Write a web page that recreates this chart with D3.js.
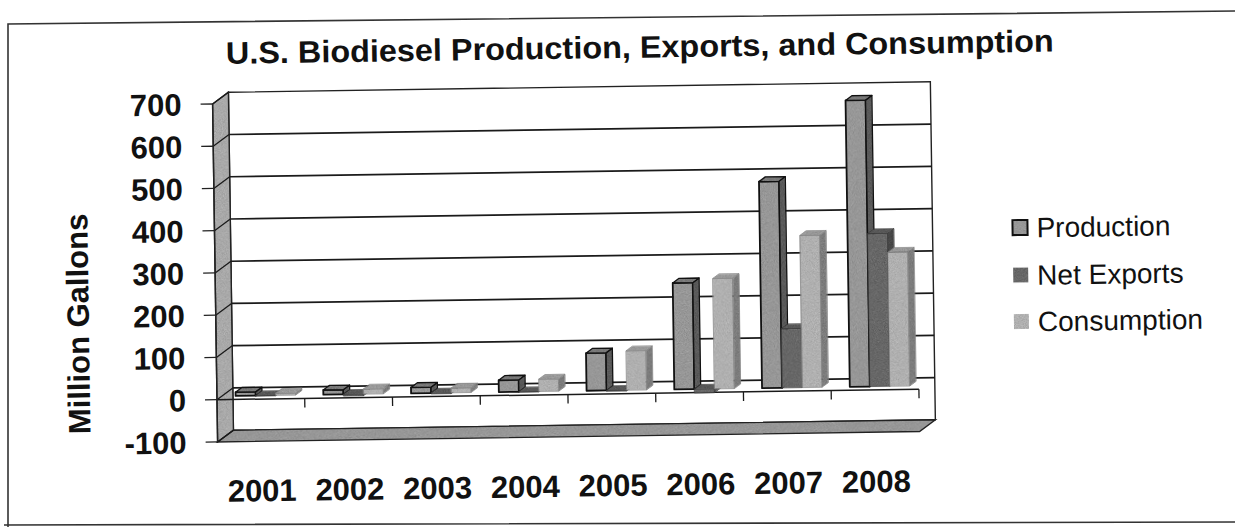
<!DOCTYPE html>
<html>
<head>
<meta charset="utf-8">
<script src="https://cdn.jsdelivr.net/npm/d3@7"></script>
<style>
  body { margin: 0; background: #fff; }
  svg { display: block; }
  text { font-family: "Liberation Sans", Arial, Helvetica, sans-serif; fill: #111; }
</style>
</head>
<body>
<svg id="chart" width="1235" height="527"></svg>
<script>
// U.S. biodiesel, million gallons per year
const years = ["2001", "2002", "2003", "2004", "2005", "2006", "2007", "2008"];
const seriesNames = ["Production", "Net Exports", "Consumption"];
const production  = [9, 11, 14, 28, 89, 252, 489, 678];
const netExports  = [-1, -4, -2, -1, -2, -9, 140, 362];
const consumption = [5, 12, 11, 29, 93, 261, 360, 317];
const yTicks = [-100, 0, 100, 200, 300, 400, 500, 600, 700];

const seriesValues = [production, netExports, consumption];

// face shades per series: front, side, top
const shades = [
  { front: "#979797", side: "#5a5a5a", top: "#787878", stroke: "#111" },
  { front: "#676767", side: "#474747", top: "#585858", stroke: "#3a3a3a" },
  { front: "#b0b0b0", side: "#7c7c7c", top: "#999999", stroke: "#888" }
];

const svg = d3.select("#chart");

// halftone-like grain for the shaded faces
const defs = svg.append("defs");
const f = defs.append("filter").attr("id", "grain")
  .attr("x", 0).attr("y", 0).attr("width", "100%").attr("height", "100%")
  .attr("color-interpolation-filters", "sRGB");
f.append("feTurbulence").attr("type", "fractalNoise").attr("baseFrequency", 1.1)
  .attr("numOctaves", 2).attr("seed", 5).attr("result", "noise");
f.append("feColorMatrix").attr("in", "noise").attr("type", "matrix")
  .attr("values", "0.33 0.33 0.33 0 0  0.33 0.33 0.33 0 0  0.33 0.33 0.33 0 0  0 0 0 0 1")
  .attr("result", "gray");
f.append("feComposite").attr("in", "SourceGraphic").attr("in2", "gray")
  .attr("operator", "arithmetic").attr("k1", 0).attr("k2", 1).attr("k3", 0.34).attr("k4", -0.17)
  .attr("result", "mix");
f.append("feComposite").attr("in", "mix").attr("in2", "SourceAlpha").attr("operator", "in");

// outer frame of the sheet
svg.append("path")
  .attr("d", "M8,527 L8,24 L1240,11 M4,525 L1240,522")
  .attr("fill", "none").attr("stroke", "#333").attr("stroke-width", 1.6);

// the chart itself sits at a slight tilt
const g = svg.append("g").attr("transform", "rotate(-0.85 617 263)");

// title
g.append("text")
  .attr("x", 643).attr("y", 58)
  .attr("text-anchor", "middle")
  .attr("font-size", 31).attr("font-weight", "bold")
  .attr("textLength", 828).attr("lengthAdjust", "spacingAndGlyphs")
  .text("U.S. Biodiesel Production, Exports, and Consumption");

// oblique depth of the plot box
const DX = 16, DY = 11.5;
const x0 = 215, x1 = 917;

const y = d3.scaleLinear().domain([-100, 700]).range([436, 98]);
const x = d3.scaleBand().domain(years).range([x0, x1]).padding(0);
const step = x.step();
const clusterW = 60;
const xs = d3.scaleBand().domain(seriesNames)
  .range([(step - clusterW) / 2, (step + clusterW) / 2]).padding(0);

const yMin = -100, yMax = 700;
const pts = p => p.map(q => q.join(",")).join(" ");

// back wall
g.append("rect")
  .attr("x", x0 + DX).attr("y", y(yMax) - DY)
  .attr("width", x1 - x0).attr("height", y(yMin) - y(yMax))
  .attr("fill", "#fff").attr("stroke", "#222").attr("stroke-width", 1.4);

// left side wall
g.append("polygon")
  .attr("points", pts([
    [x0, y(yMax)], [x0 + DX, y(yMax) - DY],
    [x0 + DX, y(yMin) - DY], [x0, y(yMin)]
  ]))
  .attr("fill", "#a9a9a9").attr("filter", "url(#grain)");
g.append("polygon")
  .attr("points", pts([
    [x0, y(yMax)], [x0 + DX, y(yMax) - DY],
    [x0 + DX, y(yMin) - DY], [x0, y(yMin)]
  ]))
  .attr("fill", "none").attr("stroke", "#222").attr("stroke-width", 1.4);

// floor
const floorPts = pts([
  [x0, y(yMin)], [x0 + DX, y(yMin) - DY],
  [x1 + DX, y(yMin) - DY], [x1, y(yMin)]
]);
g.append("polygon").attr("points", floorPts)
  .attr("fill", "#979797").attr("filter", "url(#grain)");
g.append("polygon").attr("points", floorPts)
  .attr("fill", "none").attr("stroke", "#222").attr("stroke-width", 1.4);

// gridlines on the back wall, with their diagonals across the side wall
const gridTicks = yTicks.filter(v => v > yMin && v < yMax);
g.selectAll(".grid").data(gridTicks).enter().append("line")
  .attr("x1", x0 + DX).attr("x2", x1 + DX)
  .attr("y1", d => y(d) - DY).attr("y2", d => y(d) - DY)
  .attr("stroke", "#1a1a1a").attr("stroke-width", 1.7);
g.selectAll(".diag").data(yTicks).enter().append("line")
  .attr("x1", x0).attr("x2", x0 + DX)
  .attr("y1", d => y(d)).attr("y2", d => y(d) - DY)
  .attr("stroke", "#1a1a1a").attr("stroke-width", 1.3);

// zero plane front edge and category ticks
g.append("line")
  .attr("x1", x0).attr("x2", x1)
  .attr("y1", y(0)).attr("y2", y(0))
  .attr("stroke", "#1a1a1a").attr("stroke-width", 1.5);
g.selectAll(".ctick").data(years).enter().append("line")
  .attr("x1", d => x(d) + step).attr("x2", d => x(d) + step)
  .attr("y1", y(0)).attr("y2", y(0) + 9)
  .attr("stroke", "#1a1a1a").attr("stroke-width", 1.3);

// value axis: front edge, ticks, labels
g.append("line")
  .attr("x1", x0).attr("x2", x0)
  .attr("y1", y(yMax)).attr("y2", y(yMin))
  .attr("stroke", "#222").attr("stroke-width", 1.4);
g.selectAll(".ytick").data(yTicks).enter().append("line")
  .attr("x1", x0 - 12).attr("x2", x0)
  .attr("y1", d => y(d)).attr("y2", d => y(d))
  .attr("stroke", "#222").attr("stroke-width", 1.3);
g.selectAll(".ylab").data(yTicks).enter().append("text")
  .attr("x", 184).attr("y", d => y(d) + 11)
  .attr("text-anchor", "end")
  .attr("font-size", 31).attr("font-weight", "bold")
  .text(d => d);

// value axis title
g.append("text")
  .attr("transform", "translate(88,316) rotate(-90)")
  .attr("text-anchor", "middle")
  .attr("font-size", 31).attr("font-weight", "bold")
  .text("Million Gallons");

// category labels
g.selectAll(".xlab").data(years).enter().append("text")
  .attr("x", d => x(d) + step / 2).attr("y", 496)
  .attr("text-anchor", "middle")
  .attr("font-size", 31).attr("font-weight", "bold")
  .text(d => d);

// columns, drawn left to right so nearer faces overlap correctly
const df = 0.3, bd = 0.4;            // bar front depth, bar depth (fractions of box depth)
const bdx = bd * DX, bdy = bd * DY;
const bars = [];
years.forEach((yr, i) => {
  seriesNames.forEach((s, k) => bars.push({ yr, s, k, v: seriesValues[k][i] }));
});

const barG = g.append("g");
bars.forEach(b => {
  const sh = shades[b.k];
  const left = x(b.yr) + xs(b.s) + df * DX;
  const right = left + xs.bandwidth();
  const top = y(Math.max(b.v, 0)) - df * DY;
  const bot = y(Math.min(b.v, 0)) - df * DY;
  const faces = [
    { p: [[left, top], [right, top], [right, bot], [left, bot]], fill: sh.front, sw: b.k === 0 ? 1.8 : 0.7 },
    { p: [[right, top], [right + bdx, top - bdy], [right + bdx, bot - bdy], [right, bot]], fill: sh.side, sw: b.k === 0 ? 1.3 : 0.7 },
    { p: [[left, top], [left + bdx, top - bdy], [right + bdx, top - bdy], [right, top]], fill: sh.top, sw: b.k === 0 ? 1.3 : 0.7 }
  ];
  const grp = barG.append("g");
  faces.forEach(fc => {
    grp.append("polygon").attr("points", pts(fc.p))
      .attr("fill", fc.fill).attr("filter", "url(#grain)");
    grp.append("polygon").attr("points", pts(fc.p))
      .attr("fill", "none").attr("stroke", sh.stroke)
      .attr("stroke-width", fc.sw).attr("stroke-linejoin", "round");
  });
});

// legend
const legendRows = [233.5, 281, 327.5];
const leg = g.append("g");
seriesNames.forEach((s, k) => {
  const cy = legendRows[k];
  leg.append("rect")
    .attr("x", 1013).attr("y", cy - 7.5).attr("width", 15).attr("height", 15)
    .attr("fill", shades[k].front).attr("filter", "url(#grain)");
  if (k === 0) {
    leg.append("rect")
      .attr("x", 1013).attr("y", cy - 7.5).attr("width", 15).attr("height", 15)
      .attr("fill", "none").attr("stroke", "#111").attr("stroke-width", 2);
  }
  leg.append("text")
    .attr("x", 1037).attr("y", cy + 10)
    .attr("font-size", 28)
    .text(s);
});
</script>
</body>
</html>
